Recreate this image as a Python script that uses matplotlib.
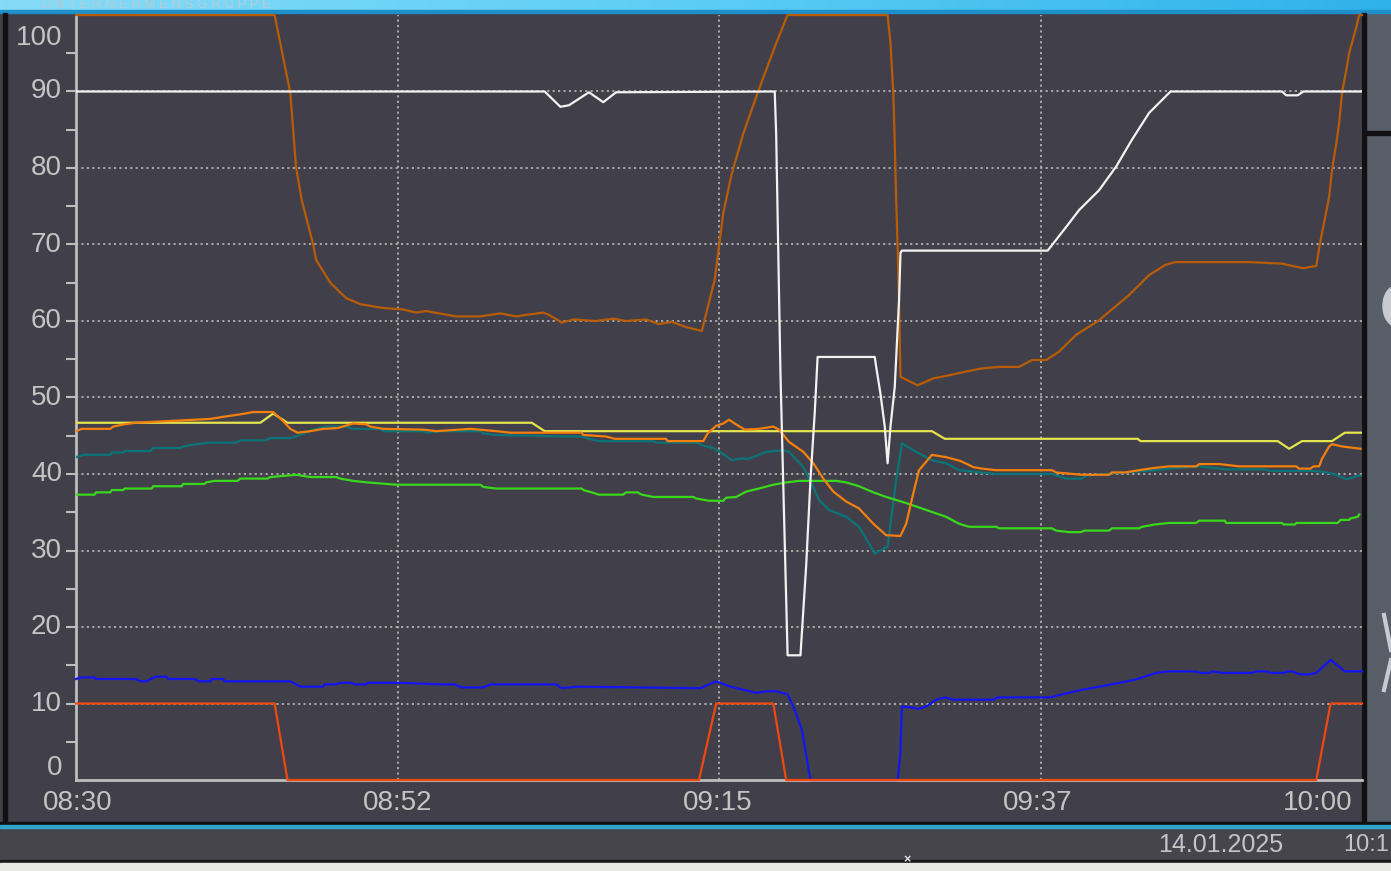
import numpy as np
import matplotlib
matplotlib.use("Agg")
import matplotlib.pyplot as plt
from matplotlib.patches import Rectangle, Ellipse
from matplotlib.colors import LinearSegmentedColormap

plt.rcParams['font.family'] = ['Liberation Sans', 'DejaVu Sans']

# zeit in minuten ab 08:30, werte in %
t_braun = [0, 13.9, 15.0, 15.4, 15.8, 16.6, 16.8, 17.8, 18.9, 19.9, 21.5, 22.9, 23.8, 24.5,
           26.6, 28.3, 29.7, 30.8, 31.5, 32.7, 33.1, 34.0, 34.8, 36.4, 37.6, 38.5, 39.9,
           40.8, 41.7, 42.7, 43.8, 44.7, 45.3, 45.9, 46.7, 47.7, 49.0, 49.8, 56.8, 57.0,
           57.2, 57.3, 57.4, 57.5, 57.6, 57.7, 58.9, 60.0, 61.1, 62.3, 63.4, 64.6, 66.0,
           66.9, 67.9, 68.8, 70.0, 71.6, 73.7, 75.1, 76.2, 76.9, 82.1, 84.4, 85.1, 85.9,
           86.8, 87.0, 87.2, 87.7, 87.9, 88.2, 88.4, 88.6, 88.9, 89.1, 89.6, 89.8, 90.0]
v_braun = [100, 100, 89.8, 80.1, 75.8, 70, 68, 65, 63, 62.2, 61.7, 61.5, 61.1, 61.3,
           60.6, 60.6, 61.0, 60.6, 60.8, 61.1, 60.8, 59.8, 60.2, 60.0, 60.3, 60.0, 60.2,
           59.6, 59.9, 59.2, 58.7, 65.4, 74.1, 79.3, 84.5, 89.8, 96.3, 100, 100, 96.3,
           89.8, 83.3, 75.8, 69.7, 62.7, 52.7, 51.6, 52.5, 52.9, 53.4, 53.8, 54.0, 54.0,
           54.9, 54.9, 56.0, 58.2, 60.1, 63.4, 66.0, 67.3, 67.7, 67.7, 67.5, 67.2, 66.9,
           67.2, 69.5, 71.5, 76.2, 79.7, 83.2, 85.9, 89.8, 92.8, 95.0, 98.4, 100, 100]

t_weiss = [0, 32.8, 33.9, 34.5, 35.9, 36.9, 37.8, 48.9, 49.0, 49.1, 49.2, 49.3, 49.8,
           50.7, 51.1, 51.4, 51.7, 51.9, 55.9, 56.0, 56.3, 56.6, 56.8, 57.0, 57.3, 57.6,
           57.7, 57.8, 68.0, 69.3, 70.2, 71.6, 72.8, 73.9, 75.1, 76.6, 84.4, 84.7, 85.5,
           85.9, 90.0]
v_weiss = [90, 90, 88.0, 88.2, 89.9, 88.6, 89.9, 90, 84.5, 74.1, 63.6, 53.2, 16.3,
           16.3, 28, 39.2, 48, 55.3, 55.3, 54, 50.5, 46.2, 41.4, 46.2, 51.4, 62.7,
           68.9, 69.2, 69.2, 72.3, 74.5, 77.1, 80.2, 83.7, 87.2, 90, 90, 89.5, 89.5,
           90, 90]

t_gelb = [0, 12.9, 13.8, 14.8, 31.9, 32.8, 59.9, 60.8, 74.3, 74.5, 84.1, 84.9, 85.8,
          87.9, 88.8, 90.0]
v_gelb = [46.7, 46.7, 47.9, 46.7, 46.7, 45.6, 45.6, 44.6, 44.6, 44.3, 44.3, 43.3, 44.3,
          44.3, 45.4, 45.4]

t_orange = [0, 0.4, 2.4, 2.6, 3.4, 4.2, 6.3, 9.4, 10.4, 11.5, 12.4, 13.8, 14.5, 15.0,
            15.5, 16.4, 17.3, 18.3, 19.4, 20.3, 20.6, 21.5, 24.3, 25.2, 27.6, 29.4, 30.4,
            35.4, 35.5, 37.1, 37.7, 41.3, 41.4, 43.9, 44.2, 44.8, 45.3, 45.7, 46.1, 46.8,
            47.8, 48.8, 49.2, 49.9, 50.9, 51.6, 52.3, 53.0, 53.9, 54.8, 55.8, 56.7, 57.7,
            58.1, 58.6, 59.0, 59.9, 60.9, 61.9, 62.8, 63.4, 64.4, 68.3, 68.6, 70.4, 72.3,
            72.5, 73.4, 74.4, 75.5, 76.5, 78.4, 78.6, 80.0, 81.4, 85.4, 85.6, 86.4, 86.6,
            87.0, 87.2, 87.7, 87.9, 88.6, 89.9]
v_orange = [45.6, 45.9, 45.9, 46.2, 46.5, 46.7, 46.9, 47.2, 47.5, 47.8, 48.1, 48.1, 46.9,
            45.9, 45.4, 45.6, 45.9, 46.0, 46.6, 46.5, 46.2, 45.9, 45.8, 45.6, 45.9, 45.6,
            45.4, 45.4, 45.1, 44.9, 44.6, 44.6, 44.3, 44.3, 45.3, 46.3, 46.6, 47.1, 46.6,
            45.8, 45.9, 46.2, 45.8, 44.2, 42.9, 41.4, 39.4, 37.7, 36.4, 35.5, 33.5, 32.0,
            31.9, 33.5, 37.5, 40.5, 42.5, 42.2, 41.7, 40.9, 40.7, 40.5, 40.5, 40.2, 39.9,
            39.9, 40.2, 40.2, 40.5, 40.8, 41.0, 41.0, 41.3, 41.3, 41.0, 41.0, 40.7, 40.7,
            41.0, 41.0, 42.0, 43.6, 43.9, 43.6, 43.3]

t_petrol = [0, 0.5, 2.4, 2.5, 3.3, 3.4, 5.2, 5.4, 7.3, 7.5, 8.4, 9.4, 11.2, 11.5, 13.3,
            13.6, 15.0, 15.7, 16.6, 17.5, 18.9, 19.4, 21.3, 21.5, 24.3, 24.5, 25.5, 28.3,
            28.5, 29.4, 34.5, 35.4, 35.9, 36.6, 40.4, 40.6, 43.4, 43.9, 44.6, 45.3, 45.9,
            46.4, 47.1, 48.3, 49.5, 49.9, 50.9, 51.6, 52.0, 52.7, 53.9, 54.8, 55.9, 56.8,
            57.4, 57.8, 58.6, 59.9, 60.9, 61.8, 64.4, 68.3, 69.3, 70.4, 70.7, 73.4, 75.6,
            76.5, 78.6, 80.5, 83.3, 83.5, 86.8, 87.5, 88.2, 88.9, 89.6, 89.9]
v_petrol = [42.2, 42.5, 42.5, 42.8, 42.8, 43.0, 43.0, 43.4, 43.4, 43.6, 43.9, 44.1, 44.1,
            44.4, 44.4, 44.7, 44.7, 45.1, 45.8, 46.2, 46.2, 45.9, 45.9, 45.6, 45.6, 45.4,
            45.6, 45.6, 45.3, 45.1, 44.9, 44.9, 44.6, 44.3, 44.3, 44.1, 44.1, 43.7, 43.4,
            42.6, 41.8, 42.0, 42.0, 42.9, 43.1, 42.9, 40.9, 38.3, 36.6, 35.3, 34.4, 33.1,
            29.6, 30.5, 39.2, 44.0, 43.1, 41.8, 41.4, 40.5, 40.0, 40.0, 39.4, 39.4, 39.8,
            40.2, 40.5, 40.7, 41.0, 40.6, 40.6, 40.4, 40.4, 40.2, 39.9, 39.3, 39.7, 39.8]

t_gruen = [0, 1.3, 1.4, 2.4, 2.5, 3.3, 3.4, 5.3, 5.4, 7.4, 7.5, 9.0, 9.1, 9.7, 11.3, 11.5,
           13.4, 13.6, 15.4, 16.4, 18.2, 18.5, 19.4, 20.4, 22.4, 28.3, 28.5, 29.4, 35.4,
           35.5, 36.1, 36.6, 38.3, 38.5, 39.3, 39.6, 40.4, 43.2, 43.4, 44.3, 45.3, 45.5,
           46.2, 46.9, 47.8, 48.8, 49.7, 50.6, 53.2, 53.9, 54.8, 55.8, 56.7, 58.1, 59.5,
           60.9, 61.8, 62.5, 64.4, 64.6, 68.3, 68.6, 69.5, 70.3, 70.6, 72.3, 72.5, 74.4,
           74.6, 75.5, 76.5, 78.4, 78.6, 80.4, 80.5, 84.4, 84.5, 85.3, 85.4, 88.3, 88.5,
           89.1, 89.2, 89.7, 89.8]
v_gruen = [37.3, 37.3, 37.6, 37.6, 37.9, 37.9, 38.1, 38.1, 38.4, 38.4, 38.7, 38.7, 38.9,
           39.1, 39.1, 39.4, 39.4, 39.6, 39.9, 39.6, 39.6, 39.4, 39.1, 38.9, 38.6, 38.6,
           38.3, 38.1, 38.1, 37.9, 37.6, 37.3, 37.3, 37.6, 37.6, 37.3, 37.0, 37.0, 36.8,
           36.5, 36.5, 36.9, 37.0, 37.7, 38.1, 38.6, 38.9, 39.1, 39.1, 38.9, 38.4, 37.6,
           37.0, 36.2, 35.3, 34.4, 33.5, 33.1, 33.1, 32.9, 32.9, 32.6, 32.4, 32.4, 32.6,
           32.6, 32.9, 32.9, 33.1, 33.4, 33.6, 33.6, 33.9, 33.9, 33.6, 33.6, 33.4, 33.4,
           33.6, 33.6, 34.0, 34.0, 34.2, 34.4, 34.7]

t_blau = [0, 0.3, 1.3, 1.4, 4.2, 4.5, 5.0, 5.2, 5.6, 6.3, 6.5, 8.3, 8.6, 9.4, 9.5, 10.3,
          10.4, 15.0, 15.2, 15.7, 17.3, 17.4, 18.2, 18.5, 19.3, 19.5, 20.3, 20.4, 22.7,
          25.5, 26.5, 27.0, 28.5, 29.0, 33.6, 34.0, 35.0, 43.7, 44.8, 45.8, 46.7, 47.6,
          48.4, 49.0, 49.8, 50.2, 50.8, 51.4, 57.5, 57.7, 57.8, 58.4, 59.0, 59.6, 60.2,
          60.8, 61.4, 64.2, 64.5, 68.2, 68.8, 70.4, 72.2, 74.1, 75.6, 76.5, 78.3, 78.7,
          79.3, 79.6, 80.2, 82.3, 82.6, 83.3, 83.6, 84.5, 84.8, 85.1, 85.7, 86.3, 86.8,
          87.8, 88.8, 90.0]
v_blau = [13.2, 13.4, 13.4, 13.2, 13.2, 12.9, 12.9, 13.2, 13.5, 13.5, 13.2, 13.2, 12.9,
          12.9, 13.2, 13.2, 12.9, 12.9, 12.7, 12.2, 12.2, 12.5, 12.5, 12.7, 12.7, 12.5,
          12.5, 12.7, 12.7, 12.5, 12.5, 12.1, 12.1, 12.5, 12.5, 12.0, 12.2, 12.0, 12.9,
          12.2, 11.8, 11.4, 11.6, 11.6, 11.2, 9.6, 6.6, 0, 0, 3.6, 9.6, 9.5, 9.3, 9.7,
          10.5, 10.8, 10.5, 10.5, 10.8, 10.8, 11.1, 11.8, 12.4, 13.1, 14.0, 14.2, 14.2,
          14.0, 14.0, 14.2, 14.0, 14.0, 14.2, 14.2, 14.0, 14.0, 14.2, 14.2, 13.8, 13.8,
          14.0, 15.7, 14.2, 14.2]

t_rot = [0, 13.9, 14.8, 43.6, 44.8, 48.8, 49.7, 86.8, 87.8, 90.0]
v_rot = [10, 10, 0, 0, 10, 10, 0, 0, 10, 10]

x_ticks = [0, 22.5, 45, 67.5, 90]
x_labels = ['08:30', '08:52', '09:15', '09:37', '10:00']
y_labels = [0, 10, 20, 30, 40, 50, 60, 70, 80, 90, 100]

W, H = 1391, 871
bg = '#41404a'
txt = '#c4c4c4'
gridc = '#b0b0b0'

fig = plt.figure(figsize=(W / 100, H / 100), dpi=100, facecolor=bg)

# rahmen / hintergrund in pixeln
rahmen = fig.add_axes([0, 0, 1, 1], zorder=0)
rahmen.set_xlim(0, W)
rahmen.set_ylim(H, 0)
rahmen.axis('off')

verlauf = np.linspace(0, 1, 256).reshape(1, -1)
blau_cm = LinearSegmentedColormap.from_list('b', ['#86dcf8', '#5ccdf5', '#2fb2ea'])
rahmen.imshow(verlauf, cmap=blau_cm, extent=(0, W, 11, 0), aspect='auto', zorder=1)
rahmen.add_patch(Rectangle((0, 10), W, 3, color='#1f8fca', zorder=2))
rahmen.text(42, 5.5, 'U N T E R N E H M E N S G R U P P E', color='#b9cbd6',
            fontsize=9.5, ha='left', va='center', zorder=3)
rahmen.add_patch(Rectangle((3, 13), 4, 810, color='#111114', zorder=2))
rahmen.add_patch(Rectangle((1362, 13), 4, 810, color='#111114', zorder=2))
rahmen.add_patch(Rectangle((1366, 13), W - 1366, 810, color='#585e68', zorder=1))
rahmen.add_patch(Rectangle((1366, 131), W - 1366, 4, color='#111114', zorder=2))
rahmen.add_patch(Ellipse((1396, 306), 26, 40, color='#c8ccd2', zorder=2))
rahmen.plot([1384, 1391], [615, 650], color='#c8ccd2', lw=3, zorder=2)
rahmen.plot([1384, 1391], [690, 660], color='#c8ccd2', lw=3, zorder=2)
rahmen.add_patch(Rectangle((0, 822), W, 3, color='#111114', zorder=2))
rahmen.add_patch(Rectangle((0, 825), W, 3, color='#2ea6c8', zorder=2))
rahmen.add_patch(Rectangle((0, 828), W, 32, color='#46454e', zorder=1))
rahmen.add_patch(Rectangle((0, 860), W, 3, color='#18181b', zorder=2))
rahmen.add_patch(Rectangle((0, 863), W, 8, color='#e8e8e6', zorder=2))
rahmen.text(1221, 845, '14.01.2025', color=txt, fontsize=18, ha='center', va='center')
rahmen.text(1389, 845, '10:1', color=txt, fontsize=17, ha='right', va='center')
rahmen.text(907, 860, '×', color='#e0e0e0', fontsize=9, ha='center', va='center',
            fontweight='bold', zorder=3)

# y-beschriftung und x-beschriftung als text
for v in y_labels:
    yp = 780 - v * 7.65
    if v == 100:
        yp = 38
    if v == 0:
        yp = 768
    rahmen.text(62, yp, str(v), color=txt, fontsize=20, ha='right', va='center')
x_pos = [78, 398, 718, 1038, 1318]
for xp, lab in zip(x_pos, x_labels):
    rahmen.text(xp, 803, lab, color=txt, fontsize=20, ha='center', va='center')

# trend
ax = fig.add_axes([76 / W, (H - 780) / H, (1362 - 76) / W, (780 - 15) / H], zorder=2)
ax.set_facecolor(bg)
ax.set_xlim(0, 90)
ax.set_ylim(0, 100)
for s in ['top', 'right']:
    ax.spines[s].set_visible(False)
for s in ['left', 'bottom']:
    ax.spines[s].set_color('#bdbdbd')
    ax.spines[s].set_linewidth(2)
ax.set_yticks(np.arange(5, 100, 5))
ax.set_yticklabels([])
ax.set_xticks([])
ax.tick_params(axis='y', length=7, width=1.5, color='#bdbdbd', direction='out')
for v in range(10, 100, 10):
    ax.axhline(v, color=gridc, lw=1.3, ls=(0, (1.2, 1.8)), zorder=1)
for t in x_ticks[1:4]:
    ax.axvline(t, color=gridc, lw=1.3, ls=(0, (1.2, 1.8)), zorder=1)

lw = 1.6
ax.plot(t_braun, v_braun, color='#b85c06', lw=lw, zorder=3, clip_on=False)
ax.plot(t_petrol, v_petrol, color='#0b7478', lw=lw, zorder=3)
ax.plot(t_gruen, v_gruen, color='#3ad81a', lw=lw, zorder=3)
ax.plot(t_gelb, v_gelb, color='#e4e44e', lw=lw, zorder=4)
ax.plot(t_orange, v_orange, color='#f57f0c', lw=lw, zorder=4)
ax.plot(t_weiss, v_weiss, color='#f2f2f2', lw=lw, zorder=5)
ax.plot(t_blau, v_blau, color='#1414f0', lw=lw, zorder=5, clip_on=False)
ax.plot(t_rot, v_rot, color='#f0480e', lw=lw, zorder=6, clip_on=False)

fig.savefig('out.png', dpi=100, facecolor=bg)
